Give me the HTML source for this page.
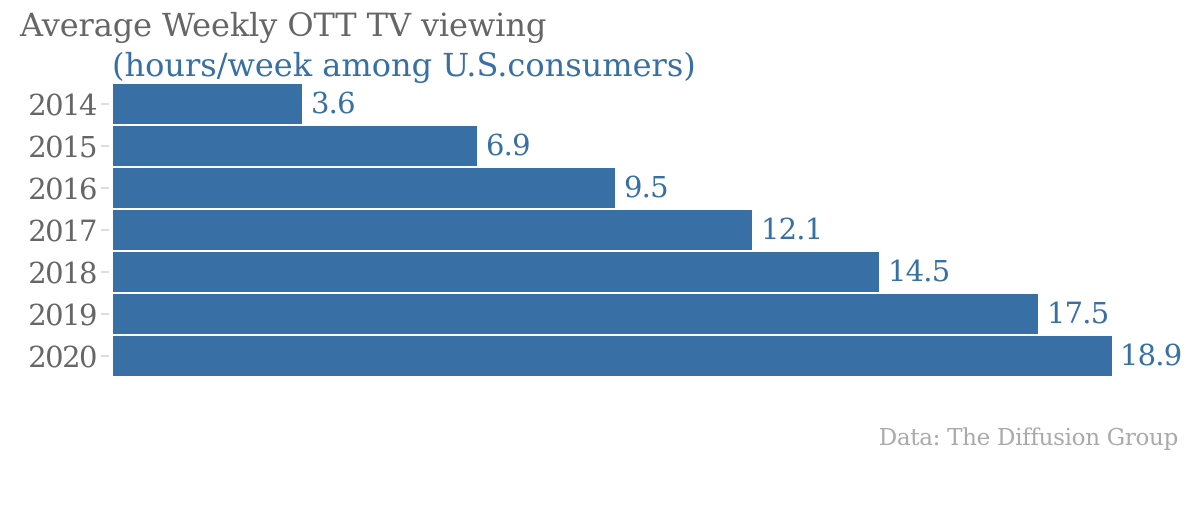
<!DOCTYPE html>
<html><head><style>
body{margin:0;width:1200px;height:512px;background:#fff;overflow:hidden;font-family:"DejaVu Serif","Liberation Serif",serif;}
.t{position:absolute;white-space:nowrap;}
.bar{position:absolute;left:113px;height:40px;background:#3870a5;}
.yr{position:absolute;left:0px;width:96px;text-align:right;font-size:29px;color:#666;line-height:40px;letter-spacing:-1.5px}
.tk{position:absolute;left:101px;width:8px;height:2px;background:#ddd}
.v{position:absolute;font-size:29px;color:#3870a5;line-height:40px;letter-spacing:-0.8px}
</style></head><body>
<div class="t" style="left:20px;top:6px;font-size:32px;color:#666;letter-spacing:-0.1px">Average Weekly OTT TV viewing</div>
<div class="t" style="left:112px;top:46px;font-size:32px;color:#3870a5;letter-spacing:0px">(hours/week among U.S.consumers)</div>
<div class="yr" style="top:85px">2014</div><div class="tk" style="top:103px"></div><div class="bar" style="top:84px;width:189px"></div><div class="v" style="left:311px;top:83px">3.6</div>
<div class="yr" style="top:127px">2015</div><div class="tk" style="top:145px"></div><div class="bar" style="top:126px;width:364px"></div><div class="v" style="left:486px;top:125px">6.9</div>
<div class="yr" style="top:169px">2016</div><div class="tk" style="top:187px"></div><div class="bar" style="top:168px;width:502px"></div><div class="v" style="left:624px;top:167px">9.5</div>
<div class="yr" style="top:211px">2017</div><div class="tk" style="top:229px"></div><div class="bar" style="top:210px;width:639px"></div><div class="v" style="left:761px;top:209px">12.1</div>
<div class="yr" style="top:253px">2018</div><div class="tk" style="top:271px"></div><div class="bar" style="top:252px;width:766px"></div><div class="v" style="left:888px;top:251px">14.5</div>
<div class="yr" style="top:295px">2019</div><div class="tk" style="top:313px"></div><div class="bar" style="top:294px;width:925px"></div><div class="v" style="left:1047px;top:293px">17.5</div>
<div class="yr" style="top:337px">2020</div><div class="tk" style="top:355px"></div><div class="bar" style="top:336px;width:999px"></div><div class="v" style="left:1120px;top:335px">18.9</div>
<div class="t" style="right:22px;top:425px;font-size:23px;color:#aaa;letter-spacing:-0.3px">Data: The Diffusion Group</div>
</body></html>
